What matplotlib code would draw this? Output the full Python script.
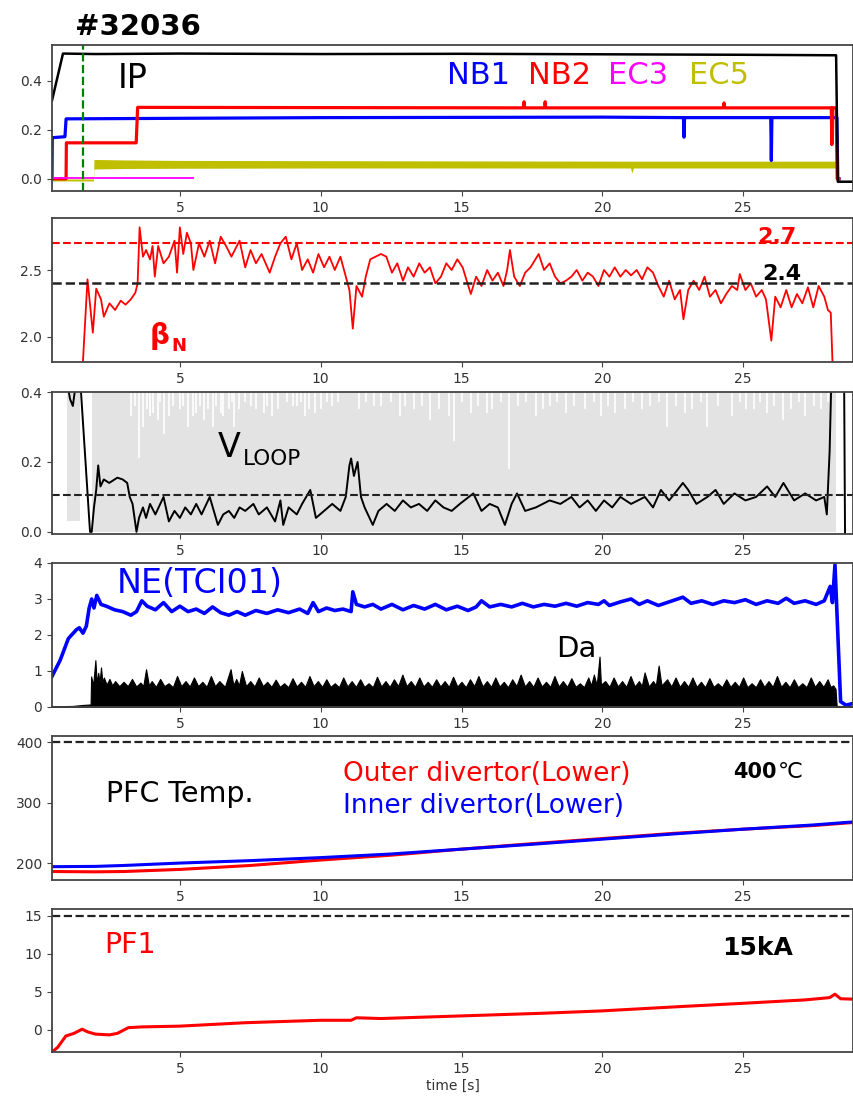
import numpy as np
import matplotlib
matplotlib.use("Agg")
import matplotlib.pyplot as plt

# ---- data (time in s) ----
ip_t = [0.46, 0.85, 2, 5, 10, 15, 20, 25, 28.25, 28.3, 28.36, 29]
ip_v = [0.32, 0.512, 0.51, 0.512, 0.51, 0.511, 0.509, 0.507, 0.505, 0.505, -0.012, -0.012]

nb1_t = [0.46, 0.47, 0.92, 0.96, 10, 20, 22.88, 22.9, 22.92, 25.98, 26.0, 26.02, 28.33, 28.36, 28.4]
nb1_v = [0.0, 0.168, 0.172, 0.245, 0.25, 0.252, 0.25, 0.17, 0.25, 0.25, 0.075, 0.25, 0.25, 0.0, 0.0]

nb2_t = [0.46, 0.96, 0.97, 3.45, 3.5, 17.2, 17.22, 17.24, 17.95, 17.97, 17.99, 24.3, 24.32, 24.34,
         28.13, 28.15, 28.17, 28.3, 28.34, 28.4]
nb2_v = [0.0, 0.0, 0.147, 0.147, 0.292, 0.29, 0.315, 0.29, 0.29, 0.315, 0.29, 0.29, 0.31, 0.29,
         0.29, 0.14, 0.29, 0.29, 0.0, 0.0]

ec3_t = [0.46, 5.46]
ec3_v = [0.003, 0.003]

ec5_t = [0.46, 1.93, 1.95, 3, 5, 10, 15, 21.0, 21.05, 21.1, 25, 28.3, 28.33, 28.4]
ec5_lo = [-0.009, -0.009, 0.04, 0.042, 0.043, 0.044, 0.044, 0.044, 0.024, 0.044, 0.044, 0.044, -0.01, -0.01]
ec5_hi = [-0.001, -0.001, 0.079, 0.077, 0.075, 0.074, 0.073, 0.072, 0.072, 0.072, 0.072, 0.072, -0.004, -0.004]

t_marker = 1.55

beta_t = [1.56, 1.72, 1.91, 2.03, 2.2, 2.3, 2.5, 2.7, 2.9, 3.07, 3.26, 3.42, 3.5, 3.57, 3.69, 3.8,
          3.94, 4.03, 4.11, 4.23, 4.42, 4.61, 4.81, 4.9, 5.0, 5.12, 5.25, 5.39, 5.48, 5.68, 5.87,
          6.06, 6.25, 6.45, 6.64, 6.83, 7.12, 7.32, 7.51, 7.7, 7.9, 8.19, 8.38, 8.57, 8.76, 8.96,
          9.15, 9.34, 9.54, 9.73, 9.92, 10.12, 10.31, 10.5, 10.7, 10.89, 11.02, 11.14, 11.27, 11.47,
          11.6, 11.76, 11.95, 12.14, 12.33, 12.53, 12.72, 12.92, 13.1, 13.3, 13.5, 13.69, 13.88,
          14.07, 14.27, 14.46, 14.65, 14.85, 15.04, 15.33, 15.52, 15.71, 15.91, 16.1, 16.29, 16.49,
          16.62, 16.72, 16.87, 17.07, 17.26, 17.45, 17.74, 17.93, 18.13, 18.32, 18.51, 18.71, 18.9,
          19.09, 19.29, 19.48, 19.67, 19.86, 20.06, 20.25, 20.44, 20.64, 20.83, 21.02, 21.22, 21.41,
          21.6, 21.8, 21.99, 22.18, 22.37, 22.57, 22.76, 22.88, 23.05, 23.24, 23.44, 23.63, 23.82,
          24.02, 24.21, 24.4, 24.6, 24.79, 24.88, 25.08, 25.27, 25.46, 25.66, 25.81, 26.0, 26.14,
          26.33, 26.53, 26.72, 26.91, 27.1, 27.3, 27.49, 27.68, 27.88, 28.01, 28.11, 28.17]
beta_v = [1.82, 2.43, 2.03, 2.36, 2.28, 2.15, 2.25, 2.2, 2.27, 2.24, 2.28, 2.33, 2.4, 2.82, 2.6, 2.65,
          2.58, 2.68, 2.45, 2.68, 2.55, 2.6, 2.72, 2.48, 2.82, 2.62, 2.78, 2.7, 2.5, 2.7, 2.6,
          2.72, 2.55, 2.75, 2.68, 2.6, 2.72, 2.52, 2.65, 2.55, 2.62, 2.48, 2.6, 2.7, 2.75, 2.58,
          2.7, 2.5, 2.58, 2.48, 2.62, 2.52, 2.6, 2.5, 2.6, 2.45, 2.35, 2.06, 2.38, 2.3,
          2.45, 2.58, 2.6, 2.62, 2.6, 2.48, 2.55, 2.42, 2.52, 2.45, 2.55, 2.48, 2.52,
          2.4, 2.45, 2.55, 2.5, 2.58, 2.52, 2.32, 2.45, 2.38, 2.5, 2.42, 2.48, 2.38,
          2.5, 2.65, 2.45, 2.38, 2.48, 2.52, 2.62, 2.5, 2.55, 2.45, 2.4, 2.42, 2.45,
          2.5, 2.42, 2.48, 2.45, 2.38, 2.5, 2.45, 2.52, 2.45, 2.5, 2.46, 2.5, 2.43,
          2.52, 2.48, 2.38, 2.3, 2.42, 2.28, 2.35, 2.13, 2.35, 2.42, 2.35, 2.45, 2.3,
          2.35, 2.25, 2.32, 2.38, 2.35, 2.47, 2.35, 2.4, 2.3, 2.35, 2.28, 1.97, 2.3,
          2.22, 2.35, 2.22, 2.32, 2.25, 2.37, 2.22, 2.38, 2.3, 2.2, 2.18, 1.82]
beta_ref = [2.7, 2.4]

vloop_t = [0.95, 1.1, 1.2, 1.3, 1.49, 1.81, 1.87, 1.95, 2.03, 2.1, 2.18, 2.3, 2.49, 2.78, 2.97, 3.13,
           3.22, 3.32, 3.46, 3.55, 3.69, 3.8, 3.94, 4.13, 4.42, 4.61, 4.81, 5.0, 5.19, 5.39, 5.58,
           5.77, 6.06, 6.35, 6.54, 6.74, 6.93, 7.12, 7.32, 7.61, 7.8, 8.09, 8.38, 8.57, 8.67, 8.86,
           9.15, 9.34, 9.63, 9.83, 10.12, 10.41, 10.7, 10.89, 11.02, 11.08, 11.18, 11.31, 11.43,
           11.56, 11.85, 12.05, 12.34, 12.63, 12.92, 13.2, 13.49, 13.78, 14.07, 14.36, 14.65, 14.94,
           15.42, 15.71, 16.0, 16.29, 16.54, 16.78, 16.97, 17.26, 17.64, 18.13, 18.51, 18.9, 19.19,
           19.48, 19.77, 20.06, 20.35, 20.64, 21.02, 21.51, 21.8, 22.08, 22.37, 22.57, 22.86, 23.05,
           23.34, 23.73, 24.02, 24.31, 24.69, 25.08, 25.46, 25.85, 26.14, 26.43, 26.81, 27.2, 27.59,
           27.88, 27.97, 28.07, 28.15, 28.58, 28.62, 28.9]
vloop_v = [0.45, 0.38, 0.36, 0.42, 0.4, 0.0, 0.0, 0.07, 0.12, 0.19, 0.13, 0.15, 0.14, 0.155, 0.15, 0.14,
           0.1, 0.08, 0.0, 0.04, 0.07, 0.04, 0.08, 0.05, 0.1, 0.03, 0.06, 0.04, 0.07, 0.05, 0.08,
           0.05, 0.1, 0.02, 0.05, 0.06, 0.04, 0.07, 0.06, 0.08, 0.05, 0.07, 0.03, 0.09, 0.02, 0.07,
           0.05, 0.08, 0.12, 0.04, 0.06, 0.08, 0.06, 0.1, 0.19, 0.21, 0.16, 0.2, 0.1,
           0.07, 0.02, 0.06, 0.08, 0.06, 0.09, 0.07, 0.08, 0.06, 0.09, 0.07, 0.06, 0.08,
           0.11, 0.06, 0.08, 0.07, 0.02, 0.08, 0.11, 0.06, 0.07, 0.09, 0.08, 0.1, 0.07,
           0.09, 0.06, 0.09, 0.07, 0.1, 0.08, 0.1, 0.07, 0.12, 0.09, 0.11, 0.14, 0.12,
           0.08, 0.1, 0.12, 0.08, 0.11, 0.09, 0.1, 0.13, 0.1, 0.14, 0.09, 0.11, 0.09,
           0.1, 0.05, 0.23, 0.5, 0.5, -0.05, -0.05]
vloop_ref = 0.105
# light grey raw loop voltage: spans where it fills the panel, and the white dips
gray_start = [1.0, 1.88]
gray_end = [1.47, 28.3]
gray_floor = [0.03, 0.0]
dip_t = [3.26, 3.4, 3.55, 3.7, 3.85, 3.94, 4.05, 4.23, 4.3, 4.42, 4.6, 4.75, 5.0, 5.12, 5.29, 5.45,
         5.58, 5.7, 5.87, 6.0, 6.16, 6.3, 6.45, 6.54, 6.74, 6.85, 6.93, 7.1, 7.3, 7.51, 7.7, 7.99,
         8.1, 8.28, 8.5, 8.8, 9.0, 9.15, 9.3, 9.44, 9.6, 9.8, 10.02, 10.21, 10.4, 10.6, 11.37,
         11.6, 11.9, 12.14, 12.5, 12.82, 13.0, 13.3, 13.6, 13.88, 14.2, 14.56, 14.75, 15.0, 15.33,
         15.6, 15.9, 16.1, 16.4, 16.68, 17.0, 17.3, 17.64, 17.9, 18.13, 18.4, 18.71, 19.0, 19.38,
         19.7, 19.96, 20.2, 20.44, 20.8, 21.1, 21.41, 21.7, 22.0, 22.28, 22.6, 22.95, 23.2, 23.5,
         23.73, 24.1, 24.59, 24.9, 25.1, 25.37, 25.6, 25.85, 26.1, 26.43, 26.7, 27.0, 27.2, 27.5,
         27.78, 28.0]
dip_v = [0.33, 0.36, 0.21, 0.3, 0.35, 0.33, 0.34, 0.32, 0.37, 0.28, 0.33, 0.36, 0.35, 0.36, 0.3, 0.33,
         0.34, 0.36, 0.32, 0.35, 0.3, 0.36, 0.34, 0.33, 0.35, 0.37, 0.3, 0.35, 0.37, 0.36, 0.35, 0.34,
         0.36, 0.33, 0.35, 0.37, 0.36, 0.36, 0.37, 0.33, 0.35, 0.34, 0.35, 0.37, 0.36, 0.37, 0.35,
         0.37, 0.36, 0.36, 0.37, 0.33, 0.36, 0.35, 0.36, 0.32, 0.35, 0.33, 0.26, 0.37, 0.34,
         0.36, 0.34, 0.35, 0.37, 0.18, 0.36, 0.37, 0.33, 0.35, 0.36, 0.37, 0.34, 0.36, 0.35,
         0.37, 0.33, 0.36, 0.34, 0.35, 0.37, 0.35, 0.36, 0.37, 0.3, 0.36, 0.34, 0.35, 0.37,
         0.3, 0.36, 0.33, 0.37, 0.35, 0.35, 0.37, 0.34, 0.36, 0.32, 0.35, 0.37, 0.33, 0.36,
         0.35, 0.37]

ne_t = [0.46, 0.75, 1.04, 1.33, 1.43, 1.56, 1.68, 1.78, 1.87, 1.95, 2.05, 2.2, 2.39, 2.68, 2.97,
        3.26, 3.46, 3.65, 3.84, 4.13, 4.42, 4.71, 5.0, 5.29, 5.58, 5.87, 6.16, 6.45, 6.74, 7.03,
        7.32, 7.7, 8.09, 8.47, 8.86, 9.25, 9.54, 9.73, 9.92, 10.21, 10.5, 10.79, 11.08, 11.14,
        11.27, 11.56, 11.85, 12.14, 12.53, 12.92, 13.3, 13.69, 14.07, 14.46, 14.85, 15.23, 15.52,
        15.71, 16.0, 16.39, 16.78, 17.16, 17.55, 17.93, 18.32, 18.71, 19.09, 19.48, 19.86, 20.06,
        20.25, 20.64, 21.02, 21.31, 21.6, 21.99, 22.37, 22.86, 23.15, 23.53, 23.92, 24.31, 24.69,
        25.08, 25.46, 25.85, 26.24, 26.53, 26.81, 27.2, 27.59, 27.88, 28.09, 28.17, 28.26, 28.46,
        28.65, 28.9]
ne_v = [0.85, 1.3, 1.9, 2.15, 2.2, 2.05, 2.25, 2.75, 3.0, 2.75, 3.1, 2.85, 2.8, 2.7, 2.65,
        2.55, 2.65, 2.95, 2.8, 2.7, 2.9, 2.65, 2.8, 2.65, 2.72, 2.6, 2.78, 2.62, 2.55, 2.65,
        2.55, 2.68, 2.6, 2.7, 2.62, 2.72, 2.6, 2.9, 2.65, 2.75, 2.68, 2.72, 2.65, 3.2,
        2.85, 2.78, 2.85, 2.72, 2.85, 2.7, 2.82, 2.72, 2.85, 2.7, 2.8, 2.68, 2.78,
        2.95, 2.78, 2.85, 2.78, 2.88, 2.78, 2.85, 2.8, 2.88, 2.8, 2.9, 2.85, 2.95,
        2.82, 2.92, 3.0, 2.85, 2.95, 2.82, 2.92, 3.05, 2.88, 2.95, 2.85, 2.95, 2.9,
        2.98, 2.85, 2.95, 2.88, 3.02, 2.88, 2.95, 2.85, 2.95, 3.35, 2.9, 3.95, 0.15,
        0.05, 0.1]

da_t = [0.46, 1.2, 1.6, 1.83, 1.85, 1.92, 2.0, 2.05, 2.1, 2.15, 2.2, 2.25, 2.3, 2.4, 2.5, 2.6, 2.7,
        2.85, 3.0, 3.15, 3.3, 3.45, 3.6, 3.7, 3.8, 3.9, 4.0, 4.15, 4.3, 4.45, 4.6, 4.75, 4.9, 5.05,
        5.2, 5.35, 5.5, 5.65, 5.8, 5.95, 6.1, 6.25, 6.4, 6.6, 6.8, 6.9, 7.0, 7.1, 7.2, 7.35, 7.5,
        7.65, 7.8, 7.95, 8.1, 8.25, 8.4, 8.55, 8.7, 8.85, 9.0, 9.15, 9.3, 9.45, 9.6, 9.75, 9.9,
        10.05, 10.2, 10.35, 10.5, 10.65, 10.8, 10.95, 11.1, 11.25, 11.4, 11.55, 11.7, 11.85, 12.0,
        12.15, 12.3, 12.45, 12.6, 12.75, 12.9, 13.05, 13.2, 13.35, 13.5, 13.65, 13.8, 13.95, 14.1,
        14.25, 14.4, 14.55, 14.7, 14.85, 15.0, 15.15, 15.3, 15.45, 15.6, 15.75, 15.9, 16.05, 16.2,
        16.35, 16.5, 16.65, 16.8, 16.95, 17.1, 17.25, 17.4, 17.55, 17.7, 17.85, 18.0, 18.15, 18.3,
        18.45, 18.6, 18.75, 18.9, 19.05, 19.2, 19.35, 19.5, 19.6, 19.7, 19.8, 19.9, 19.95, 20.1,
        20.25, 20.4, 20.55, 20.7, 20.85, 21.0, 21.15, 21.3, 21.4, 21.5, 21.65, 21.8, 21.9, 22.0,
        22.1, 22.3, 22.45, 22.6, 22.75, 22.9, 23.05, 23.2, 23.35, 23.5, 23.65, 23.8, 23.95, 24.1,
        24.25, 24.4, 24.55, 24.7, 24.85, 25.0, 25.15, 25.3, 25.45, 25.6, 25.75, 25.9, 26.05, 26.2,
        26.35, 26.5, 26.65, 26.8, 26.95, 27.1, 27.25, 27.4, 27.55, 27.7, 27.85, 28.0, 28.1, 28.2,
        28.28, 28.32, 28.9]
da_v = [0.02, 0.03, 0.06, 0.07, 0.85, 0.6, 1.3, 0.65, 0.95, 0.7, 1.1, 0.68, 0.82, 0.62, 0.78, 0.6, 0.72,
        0.58, 0.7, 0.58, 0.78, 0.57, 0.68, 0.58, 1.05, 0.6, 0.72, 0.56, 0.78, 0.58, 0.66, 0.55, 0.86, 0.58,
        0.72, 0.57, 0.82, 0.58, 0.7, 0.56, 0.86, 0.58, 0.72, 0.56, 1.05, 0.6, 0.78, 0.6, 1.0, 0.58, 0.72,
        0.57, 0.82, 0.58, 0.7, 0.56, 0.76, 0.56, 0.66, 0.55, 0.8, 0.57, 0.7, 0.56, 0.86, 0.58, 0.72,
        0.56, 0.77, 0.56, 0.66, 0.55, 0.82, 0.57, 0.72, 0.56, 0.77, 0.56, 0.66, 0.55, 0.84,
        0.57, 0.72, 0.56, 0.77, 0.58, 0.9, 0.58, 0.72, 0.56, 0.82, 0.57, 0.7, 0.56, 0.77,
        0.57, 0.72, 0.56, 0.84, 0.57, 0.7, 0.55, 0.77, 0.58, 0.86, 0.57, 0.72, 0.56, 0.82,
        0.57, 0.7, 0.55, 0.77, 0.58, 0.9, 0.57, 0.72, 0.56, 0.82, 0.57, 0.7, 0.56, 0.86,
        0.57, 0.72, 0.56, 0.8, 0.56, 0.66, 0.55, 0.82, 0.6, 0.9, 0.6, 1.4, 0.62, 0.72,
        0.56, 0.82, 0.57, 0.72, 0.56, 0.86, 0.57, 0.72, 0.58, 0.96, 0.57, 0.72, 0.6, 1.15,
        0.6, 0.77, 0.57, 0.82, 0.56, 0.72, 0.56, 0.82, 0.56, 0.7, 0.55, 0.8, 0.56, 0.66,
        0.55, 0.77, 0.56, 0.7, 0.56, 0.82, 0.55, 0.66, 0.55, 0.77, 0.56, 0.72, 0.56, 0.86,
        0.56, 0.7, 0.55, 0.77, 0.55, 0.66, 0.55, 0.82, 0.56, 0.72, 0.56, 0.77, 0.56, 0.6,
        0.5, 0.03, 0.02]

pfc_t = [0.46, 2, 3, 5, 7.5, 10, 12.5, 15, 17.5, 20, 22.5, 25, 27.5, 28.9]
pfc_inner = [194, 194.5, 196, 200, 204, 209, 215, 223, 231, 239.5, 248, 256, 263, 268]
pfc_outer = [186, 185.5, 186, 189.5, 196, 205, 213, 223, 232, 240.5, 249, 256, 262, 267]
pfc_limit = 400

pf1_t = [0.46, 0.66, 0.95, 1.24, 1.53, 1.72, 2.0, 2.5, 2.78, 3.17, 3.65, 5.0, 7.32, 10.0, 11.08,
         11.27, 12.14, 15.04, 17.93, 19.96, 22.76, 24.98, 27.2, 28.07, 28.26, 28.46, 28.9]
pf1_v = [-2.9, -2.3, -0.8, -0.45, 0.1, -0.25, -0.55, -0.65, -0.45, 0.3, 0.4, 0.5, 0.95, 1.27, 1.27,
         1.6, 1.5, 1.85, 2.2, 2.5, 3.07, 3.5, 3.95, 4.25, 4.7, 4.1, 4.05]
pf1_limit = 15

xticks = [5, 10, 15, 20, 25]
xlim = (0.46, 28.9)

# ---- figure ----
W, H = 854, 1102
fig = plt.figure(figsize=(W / 100, H / 100), dpi=100)


def panel(top, bottom):
    ax = fig.add_axes([52 / W, 1 - bottom / H, (853 - 52) / W, (bottom - top) / H])
    ax.set_xlim(*xlim)
    ax.set_xticks(xticks)
    for s in ax.spines.values():
        s.set_color('#444444')
        s.set_linewidth(1.3)
    ax.tick_params(colors='#444444', labelcolor='#333333', labelsize=10)
    return ax


def label(x, y, s, **kw):
    fig.text(x / W, 1 - y / H, s, va='baseline', ha='left', **kw)


# panel 1
ax1 = panel(45, 191)
ax1.fill_between(ec5_t, ec5_lo, ec5_hi, color='#BFBF00', lw=0)
ax1.plot(nb1_t, nb1_v, color='blue', lw=2.3)
ax1.plot(nb2_t, nb2_v, color='red', lw=2.3)
ax1.plot(ec3_t, ec3_v, color='magenta', lw=1.3)
ax1.plot(ip_t, ip_v, color='black', lw=1.8)
ax1.axvline(t_marker, color='green', ls='--', lw=1.6)
ax1.set_ylim(-0.05, 0.547)
ax1.set_yticks([0.0, 0.2, 0.4])

# panel 2
ax2 = panel(218, 362)
ax2.plot(beta_t, beta_v, color='red', lw=1.3)
ax2.axhline(beta_ref[0], color='red', ls='--', lw=1.5)
ax2.axhline(beta_ref[1], color='#222222', ls='--', lw=1.8)
ax2.set_ylim(1.81, 2.89)
ax2.set_yticks([2.0, 2.5])

# panel 3
ax3 = panel(392, 534)
for a, b, f in zip(gray_start, gray_end, gray_floor):
    ax3.fill_between([a, b], f, 1.0, color='#e3e3e3', lw=0)
ax3.vlines(dip_t, dip_v, 1.0, color='white', lw=1.2)
ax3.plot(vloop_t, vloop_v, color='black', lw=1.4)
ax3.axhline(vloop_ref, color='#222222', ls='--', lw=1.5)
ax3.set_ylim(-0.006, 0.4)
ax3.set_yticks([0.0, 0.2, 0.4])

# panel 4
ax4 = panel(563, 707)
ax4.fill_between(da_t, 0, da_v, color='black', lw=0.8)
ax4.plot(ne_t, ne_v, color='blue', lw=2.6)
ax4.set_ylim(0, 4)
ax4.set_yticks([0, 1, 2, 3, 4])

# panel 5
ax5 = panel(736, 880)
ax5.plot(pfc_t, pfc_outer, color='red', lw=2.2)
ax5.plot(pfc_t, pfc_inner, color='blue', lw=2.2)
ax5.axhline(pfc_limit, color='#222222', ls='--', lw=1.6)
ax5.set_ylim(172, 410)
ax5.set_yticks([200, 300, 400])

# panel 6
ax6 = panel(909, 1052)
ax6.plot(pf1_t, pf1_v, color='red', lw=2.2)
ax6.axhline(pf1_limit, color='#222222', ls='--', lw=1.6)
ax6.set_ylim(-2.9, 15.9)
ax6.set_yticks([0, 5, 10, 15])
ax6.set_xlabel('time [s]', fontsize=10, color='#333333', labelpad=2)

# ---- annotations ----
label(75, 35, '#32036', fontsize=21, fontweight='bold')
label(118, 88, 'IP', fontsize=24)
label(447, 84, 'NB1', fontsize=22, color='blue')
label(528, 84, 'NB2', fontsize=22, color='red')
label(608, 84, 'EC3', fontsize=22, color='magenta')
label(689, 84, 'EC5', fontsize=22, color='#BFBF00')

label(757, 243, '2.7', fontsize=16, fontweight='bold', color='red')
label(762, 280, '2.4', fontsize=16, fontweight='bold')
label(150, 344, 'β', fontsize=20, fontweight='bold', color='red')
label(171, 351, 'N', fontsize=13, fontweight='bold', color='red')

label(218, 457, 'V', fontsize=24)
label(243, 465, 'LOOP', fontsize=15.5)

label(117, 593, 'NE(TCI01)', fontsize=24, color='blue')
label(556, 657, 'Da', fontsize=21)

label(106, 802, 'PFC Temp.', fontsize=20.5)
label(343, 781, 'Outer divertor(Lower)', fontsize=19, color='red')
label(343, 813, 'Inner divertor(Lower)', fontsize=19, color='blue')
label(733, 778, '400', fontsize=15, fontweight='bold')
label(778, 778, '℃', fontsize=16)

label(104, 953, 'PF1', fontsize=20.5, color='red')
label(722, 955, '15kA', fontsize=18, fontweight='bold')

fig.savefig('out.png', dpi=100)
